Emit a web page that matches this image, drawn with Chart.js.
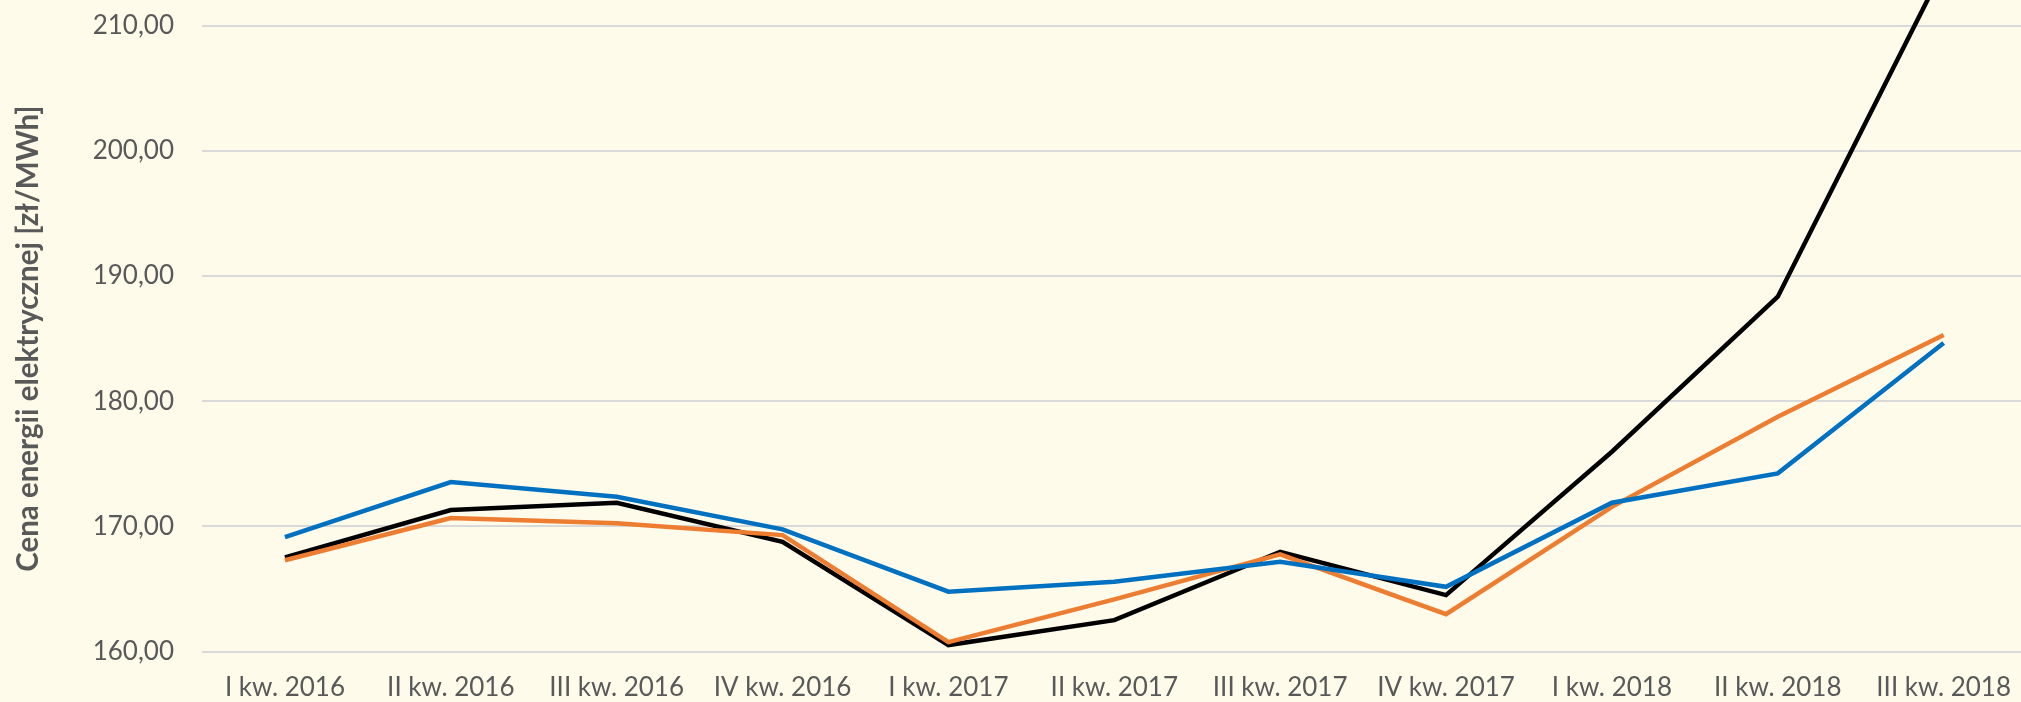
<!DOCTYPE html>
<html lang="pl">
<head>
<meta charset="utf-8">
<title>Cena energii elektrycznej</title>
<script src="https://cdn.jsdelivr.net/npm/chart.js@4.4.1/dist/chart.umd.min.js"></script>
<style>
    html, body { margin: 0; padding: 0; overflow: hidden; background: #FEFBEB; }
    #wrap { width: 2031px; height: 702px; }
    canvas { display: block; background: #FEFBEB; }
</style>
</head>
<body>
<div id="wrap"><canvas id="priceChart" width="2031" height="702"></canvas></div>
<script>
// Kategorie (kwartały)
const quarters = [
    'I kw. 2016', 'II kw. 2016', 'III kw. 2016', 'IV kw. 2016',
    'I kw. 2017', 'II kw. 2017', 'III kw. 2017', 'IV kw. 2017',
    'I kw. 2018', 'II kw. 2018', 'III kw. 2018'
];

// Wartości serii [zł/MWh]
const blackSeries = [167.53, 171.31, 171.90, 168.78, 160.53, 162.52, 167.98, 164.52, 175.97, 188.35, 214.6];
const orangeSeries = [167.30, 170.67, 170.25, 169.31, 160.77, 164.18, 167.77, 163.00, 171.57, 178.76, 185.30];
const blueSeries = [169.15, 173.55, 172.37, 169.77, 164.79, 165.58, 167.18, 165.18, 171.90, 174.24, 184.65];

// Oś Y
const yMin = 160;
const yMax = 210;
const yStep = 10;

const textColor = '#595959';
const gridColor = '#D9D9D9';

function initChart() {
    if (typeof Chart === 'undefined') {
        setTimeout(initChart, 50);
        return;
    }

    const canvas = document.getElementById('priceChart');

    new Chart(canvas, {
        type: 'line',
        data: {
            labels: quarters,
            datasets: [
                {
                    label: 'Seria 1',
                    data: blackSeries,
                    borderColor: '#000000',
                    borderWidth: 4.5,
                    pointRadius: 0,
                    tension: 0,
                    clip: false,
                    order: 3
                },
                {
                    label: 'Seria 2',
                    data: orangeSeries,
                    borderColor: '#ED7D31',
                    borderWidth: 4.5,
                    pointRadius: 0,
                    tension: 0,
                    order: 2
                },
                {
                    label: 'Seria 3',
                    data: blueSeries,
                    borderColor: '#0070C0',
                    borderWidth: 4.5,
                    pointRadius: 0,
                    tension: 0,
                    order: 1
                }
            ]
        },
        options: {
            responsive: false,
            animation: false,
            devicePixelRatio: 1,
            layout: {
                padding: { top: 25.6, right: 0, bottom: 0, left: 0 }
            },
            plugins: {
                legend: { display: false },
                tooltip: { enabled: false }
            },
            scales: {
                x: {
                    offset: true,
                    grid: { display: false, drawTicks: false },
                    border: { display: false },
                    ticks: {
                        color: textColor,
                        font: { family: 'Lato', size: 26 },
                        padding: 20,
                        maxRotation: 0,
                        autoSkip: false
                    },
                    afterFit: function (scale) {
                        scale.height = 50.3;
                    }
                },
                y: {
                    min: yMin,
                    max: yMax,
                    grid: { color: gridColor, lineWidth: 2, drawTicks: false },
                    border: { display: false },
                    ticks: {
                        stepSize: yStep,
                        color: textColor,
                        font: { family: 'Lato', size: 26 },
                        padding: 28,
                        callback: function (value) {
                            return value.toFixed(2).replace('.', ',');
                        }
                    },
                    title: {
                        display: true,
                        text: 'Cena energii elektrycznej [zł/MWh]',
                        color: textColor,
                        font: { family: 'Lato', size: 29.5, weight: 'bold' },
                        padding: { top: 11, bottom: 0 }
                    },
                    afterFit: function (scale) {
                        scale.width = 202;
                        scale.paddingTop = 0;
                        scale.paddingBottom = 0;
                    }
                }
            }
        }
    });
}

initChart();
</script>
</body>
</html>
